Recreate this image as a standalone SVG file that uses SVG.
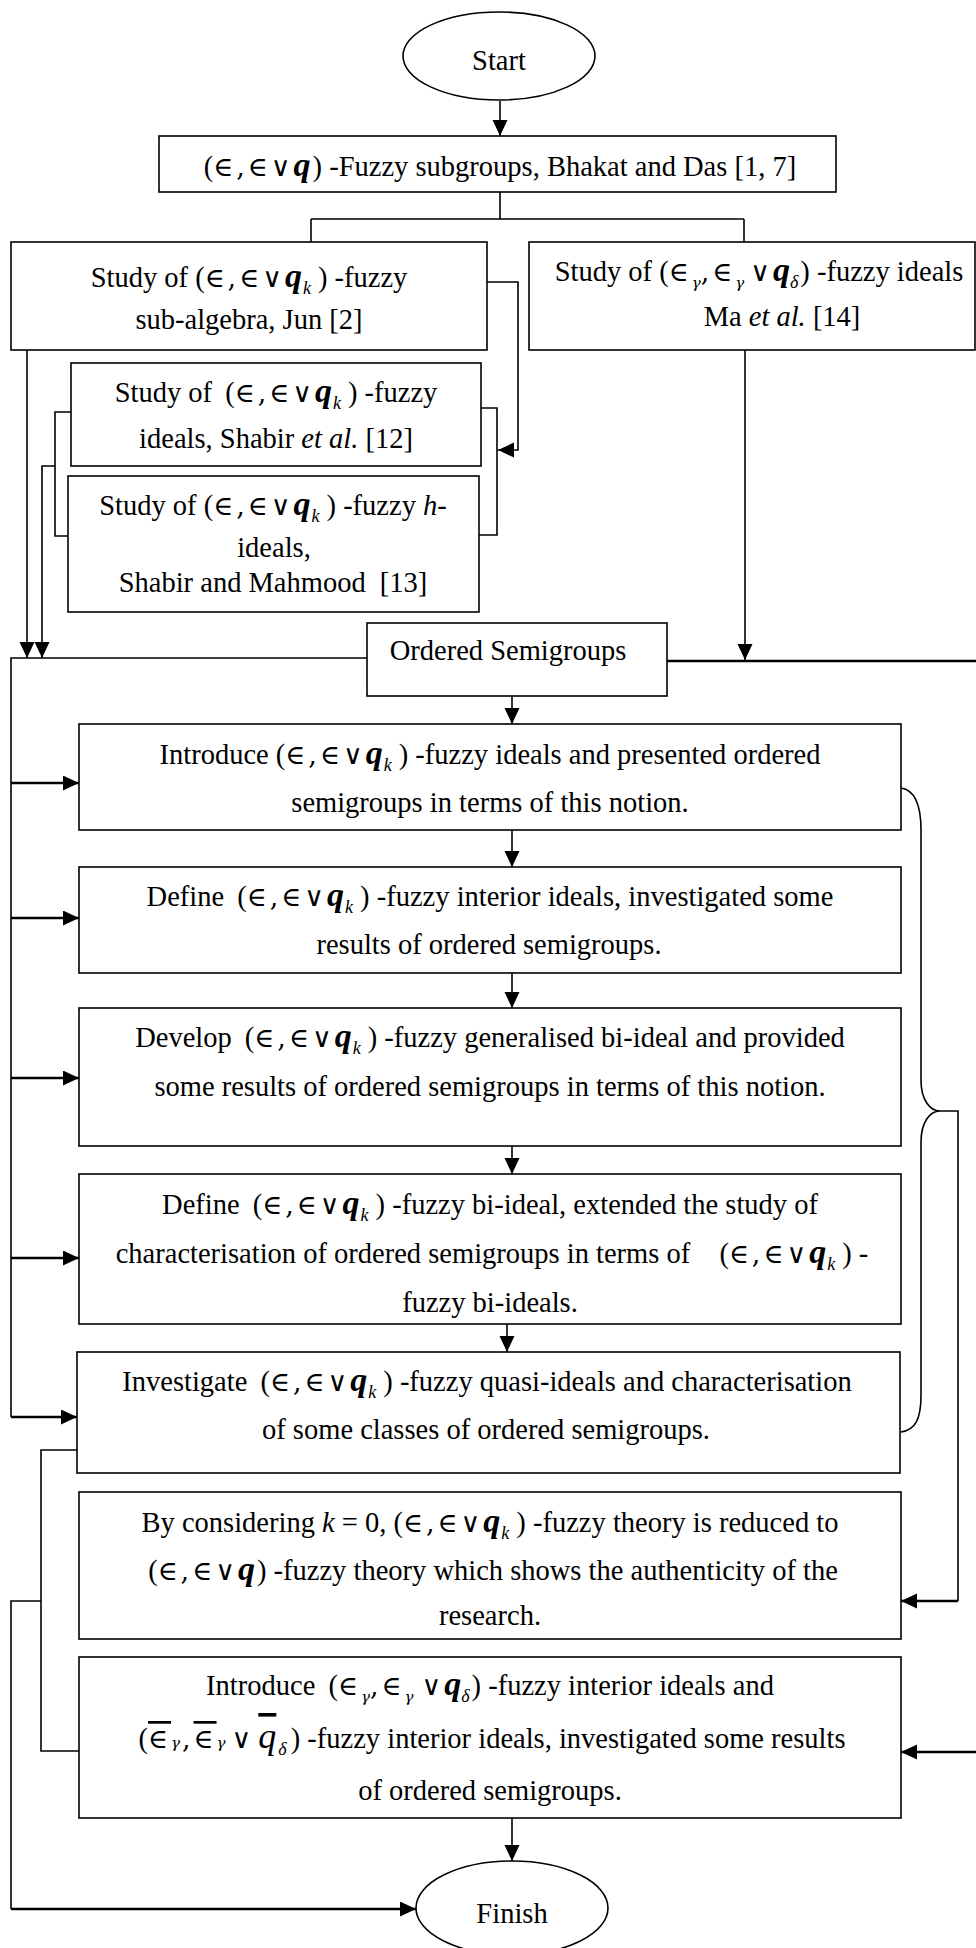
<svg xmlns="http://www.w3.org/2000/svg" width="976" height="1948" viewBox="0 0 976 1948">
<style>
.box{fill:#fff;stroke:#000;stroke-width:1.6}
.t{font-family:"Liberation Serif","DejaVu Serif",serif;font-size:28.5px;fill:#000;text-anchor:middle}
.m{font-family:"DejaVu Serif","Liberation Serif",serif;font-size:27px;letter-spacing:3px}
.q{font-family:"Liberation Serif",serif;font-style:italic;font-weight:bold;font-size:34px}
.q2{font-family:"Liberation Serif",serif;font-style:italic;font-size:36px}
.s{font-family:"Liberation Serif",serif;font-style:italic;font-size:18px}
.g{font-family:"DejaVu Serif","Liberation Serif",serif;font-size:15px;font-style:italic}
.i{font-style:italic}
.ov{text-decoration:overline}
.c{fill:none;stroke:#000;stroke-width:1.6}
.w{stroke-width:2.4}
.a{marker-end:url(#ah)}
</style>
<defs>
<marker id="ah" markerWidth="18" markerHeight="16" refX="16" refY="7.5" orient="auto" markerUnits="userSpaceOnUse"><path d="M0,0 L16,7.5 L0,15 z" fill="#000"/></marker>
</defs>
<rect width="976" height="1948" fill="#fff"/>
<g id="connectors">
<path class="c a" d="M500,101 V136"/>
<path class="c" d="M500,192 V219 M311,219 H744 M311,219 V242 M744,219 V242"/>
<path class="c a" d="M487,282 H518 V450 H498"/>
<path class="c" d="M481,408 H497 V535 H479"/>
<path class="c" d="M71,412 H55 V536 H68"/>
<path class="c a" d="M55,466 H42 V658"/>
<path class="c a" d="M27,350 V658"/>
<path class="c a" d="M745,350 V660"/>
<path class="c" d="M367,658 H11 V1417"/>
<path class="c w a" d="M11,783 H79"/>
<path class="c w a" d="M11,918 H79"/>
<path class="c w a" d="M11,1078 H79"/>
<path class="c w a" d="M11,1258 H79"/>
<path class="c w a" d="M11,1417 H77"/>
<path class="c w" d="M667,661 H982 V1752"/>
<path class="c w a" d="M982,1752 H901"/>
<path class="c a" d="M512,696 V724"/>
<path class="c a" d="M512,830 V867"/>
<path class="c a" d="M512,973 V1008"/>
<path class="c a" d="M512,1146 V1174"/>
<path class="c a" d="M507,1324 V1352"/>
<path class="c" d="M901,788 C915,790 921,805 921,830 V1080 C921,1100 930,1111 940,1111 C930,1111 921,1122 921,1142 V1395 C921,1420 915,1430 901,1432"/>
<path class="c" d="M940,1111 H958 V1601"/>
<path class="c w a" d="M958,1601 H901"/>
<path class="c" d="M77,1450 H41 V1751 H79"/>
<path class="c" d="M41,1601 H11 V1909"/>
<path class="c w a" d="M11,1909 H416"/>
<path class="c a" d="M512,1818 V1861"/>
</g>
<g id="start">
<ellipse cx="499" cy="56" rx="96" ry="44" class="box"/>
<text class="t" x="499" y="70">Start</text>
</g>
<g id="n1">
<rect x="159" y="136" width="677" height="56" class="box"/>
<text class="t" x="500" y="176"><tspan>(</tspan><tspan class="m">∈,∈∨</tspan><tspan class="q">q</tspan><tspan dx="2">) -Fuzzy subgroups, Bhakat and Das [1, 7]</tspan></text>
</g>
<g id="n2">
<rect x="11" y="242" width="476" height="108" class="box"/>
<text class="t" x="249" y="287"><tspan>Study of (</tspan><tspan class="m">∈,∈∨</tspan><tspan class="q">q</tspan><tspan class="s" dx="1" dy="7">k</tspan><tspan dx="7" dy="-7">) -fuzzy</tspan></text>
<text class="t" x="249" y="329">sub-algebra, Jun [2]</text>
</g>
<g id="n3">
<rect x="529" y="242" width="446" height="108" class="box"/>
<text class="t" x="759" y="281"><tspan>Study of (</tspan><tspan class="m">∈</tspan><tspan class="g" dy="7">γ</tspan><tspan class="m" dy="-7">,∈</tspan><tspan class="g" dy="7">γ</tspan><tspan class="m" dx="6" dy="-7">∨</tspan><tspan class="q">q</tspan><tspan class="s" dy="7">δ</tspan><tspan dx="2" dy="-7">) -fuzzy ideals</tspan></text>
<text class="t" x="782" y="326"><tspan>Ma </tspan><tspan class="i">et al.</tspan><tspan> [14]</tspan></text>
</g>
<g id="n4">
<rect x="71" y="363" width="410" height="103" class="box"/>
<text class="t" x="276" y="402"><tspan>Study of </tspan><tspan dx="6">(</tspan><tspan class="m">∈,∈∨</tspan><tspan class="q">q</tspan><tspan class="s" dx="1" dy="7">k</tspan><tspan dx="7" dy="-7">) -fuzzy</tspan></text>
<text class="t" x="276" y="448"><tspan>ideals, Shabir </tspan><tspan class="i">et al.</tspan><tspan> [12]</tspan></text>
</g>
<g id="n5">
<rect x="68" y="476" width="411" height="136" class="box"/>
<text class="t" x="273" y="515"><tspan>Study of (</tspan><tspan class="m">∈,∈∨</tspan><tspan class="q">q</tspan><tspan class="s" dx="1" dy="7">k</tspan><tspan dx="7" dy="-7">) -fuzzy </tspan><tspan class="i">h</tspan><tspan>-</tspan></text>
<text class="t" x="274" y="557">ideals,</text>
<text class="t" x="273" y="592"><tspan>Shabir and Mahmood </tspan><tspan dx="7">[13]</tspan></text>
</g>
<g id="n6">
<rect x="367" y="623" width="300" height="73" class="box"/>
<text class="t" x="508" y="660">Ordered Semigroups</text>
</g>
<g id="n7">
<rect x="79" y="724" width="822" height="106" class="box"/>
<text class="t" x="490" y="764"><tspan>Introduce (</tspan><tspan class="m">∈,∈∨</tspan><tspan class="q">q</tspan><tspan class="s" dx="1" dy="7">k</tspan><tspan dx="7" dy="-7">) -fuzzy ideals and presented ordered</tspan></text>
<text class="t" x="490" y="812">semigroups in terms of this notion.</text>
</g>
<g id="n8">
<rect x="79" y="867" width="822" height="106" class="box"/>
<text class="t" x="490" y="906"><tspan>Define </tspan><tspan dx="6">(</tspan><tspan class="m">∈,∈∨</tspan><tspan class="q">q</tspan><tspan class="s" dx="1" dy="7">k</tspan><tspan dx="7" dy="-7">) -fuzzy interior ideals, investigated some</tspan></text>
<text class="t" x="489" y="954">results of ordered semigroups.</text>
</g>
<g id="n9">
<rect x="79" y="1008" width="822" height="138" class="box"/>
<text class="t" x="490" y="1047"><tspan>Develop </tspan><tspan dx="6">(</tspan><tspan class="m">∈,∈∨</tspan><tspan class="q">q</tspan><tspan class="s" dx="1" dy="7">k</tspan><tspan dx="7" dy="-7">) -fuzzy generalised bi-ideal and provided</tspan></text>
<text class="t" x="490" y="1096">some results of ordered semigroups in terms of this notion.</text>
</g>
<g id="n10">
<rect x="79" y="1174" width="822" height="150" class="box"/>
<text class="t" x="490" y="1214"><tspan>Define </tspan><tspan dx="6">(</tspan><tspan class="m">∈,∈∨</tspan><tspan class="q">q</tspan><tspan class="s" dx="1" dy="7">k</tspan><tspan dx="7" dy="-7">) -fuzzy bi-ideal, extended the study of</tspan></text>
<text class="t" x="492" y="1263"><tspan>characterisation of ordered semigroups in terms of </tspan><tspan dx="22">(</tspan><tspan class="m">∈,∈∨</tspan><tspan class="q">q</tspan><tspan class="s" dx="1" dy="7">k</tspan><tspan dx="7" dy="-7">) -</tspan></text>
<text class="t" x="490" y="1312">fuzzy bi-ideals.</text>
</g>
<g id="n11">
<rect x="77" y="1352" width="823" height="121" class="box"/>
<text class="t" x="487" y="1391"><tspan>Investigate </tspan><tspan dx="6">(</tspan><tspan class="m">∈,∈∨</tspan><tspan class="q">q</tspan><tspan class="s" dx="1" dy="7">k</tspan><tspan dx="7" dy="-7">) -fuzzy quasi-ideals and characterisation</tspan></text>
<text class="t" x="486" y="1439">of some classes of ordered semigroups.</text>
</g>
<g id="n12">
<rect x="79" y="1492" width="822" height="147" class="box"/>
<text class="t" x="490" y="1532"><tspan>By considering </tspan><tspan class="i">k</tspan><tspan> = 0, </tspan><tspan>(</tspan><tspan class="m">∈,∈∨</tspan><tspan class="q">q</tspan><tspan class="s" dx="1" dy="7">k</tspan><tspan dx="7" dy="-7">) -fuzzy theory is reduced to</tspan></text>
<text class="t" x="493" y="1580"><tspan>(</tspan><tspan class="m">∈,∈∨</tspan><tspan class="q">q</tspan><tspan dx="2">) -fuzzy theory which shows the authenticity of the</tspan></text>
<text class="t" x="490" y="1625">research.</text>
</g>
<g id="n13">
<rect x="79" y="1657" width="822" height="161" class="box"/>
<text class="t" x="490" y="1695"><tspan>Introduce </tspan><tspan dx="6">(</tspan><tspan class="m">∈</tspan><tspan class="g" dy="7">γ</tspan><tspan class="m" dy="-7">,∈</tspan><tspan class="g" dy="7">γ</tspan><tspan class="m" dx="8" dy="-7">∨</tspan><tspan class="q">q</tspan><tspan class="s" dy="7">δ</tspan><tspan dx="2" dy="-7">) -fuzzy interior ideals and</tspan></text>
<text class="t" x="492" y="1748"><tspan>(</tspan><tspan class="m ov">∈</tspan><tspan class="g">γ</tspan><tspan class="m" dx="2">,</tspan><tspan class="m ov">∈</tspan><tspan class="g">γ</tspan><tspan class="m" dx="6">∨</tspan><tspan class="q2 ov" dx="4">q</tspan><tspan class="s" dx="2" dy="7">δ</tspan><tspan dx="4" dy="-7">) -fuzzy interior ideals, investigated some results</tspan></text>
<text class="t" x="490" y="1800">of ordered semigroups.</text>
</g>
<g id="finish">
<ellipse cx="512" cy="1908" rx="96" ry="47" class="box"/>
<text class="t" x="512" y="1923">Finish</text>
</g>
</svg>
